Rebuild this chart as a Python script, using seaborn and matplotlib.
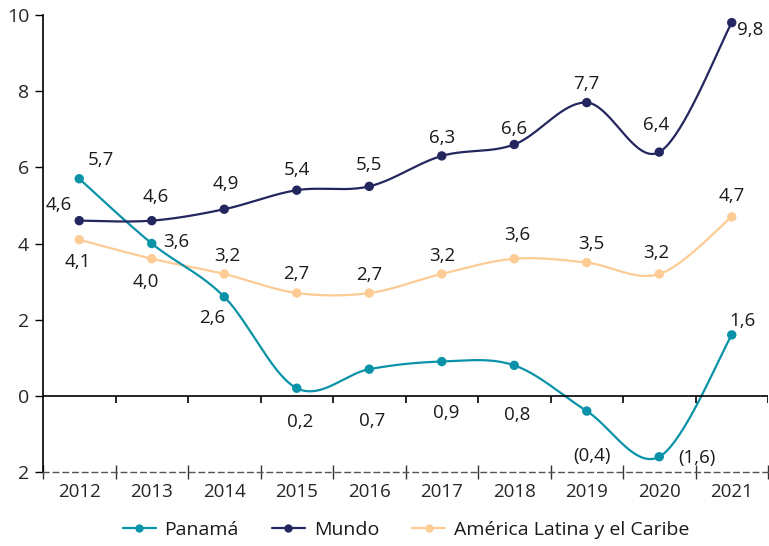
import numpy as np
import pandas as pd
import matplotlib
matplotlib.use("Agg")
import matplotlib.pyplot as plt
import seaborn as sns
from matplotlib.lines import Line2D

# ---------------- data ----------------
years = ["2012", "2013", "2014", "2015", "2016", "2017", "2018", "2019", "2020", "2021"]
panama = [5.7, 4.0, 2.6, 0.2, 0.7, 0.9, 0.8, -0.4, -1.6, 1.6]
mundo = [4.6, 4.6, 4.9, 5.4, 5.5, 6.3, 6.6, 7.7, 6.4, 9.8]
alc = [4.1, 3.6, 3.2, 2.7, 2.7, 3.2, 3.6, 3.5, 3.2, 4.7]
series_names = ["Panamá", "Mundo", "América Latina y el Caribe"]
y_ticks = [-2, 0, 2, 4, 6, 8, 10]
y_ticklabels = ["2", "0", "2", "4", "6", "8", "10"]

# label offsets in pixels (style only)
panama_off = [(22, 19), (-6, -38), (-12, -21), (3, -34), (3, -52), (4, -51), (3, -50), (5, -45), (38, -1), (11, 14)]
mundo_off = [(-20, 16), (4, 24), (2, 25), (0, 20), (0, 21), (0, 18), (0, 15), (0, 19), (-3, 27), (18, -7)]
alc_off = [(-1, -22), (25, 17), (3, 18), (0, 19), (0, 18), (0, 18), (3, 24), (5, 19), (-3, 21), (0, 21)]

colors = {"Panamá": "#0A93A8", "Mundo": "#24275F", "América Latina y el Caribe": "#FDCB94"}

sns.set_theme(style="white")
plt.rcParams["font.family"] = ["Open Sans", "DejaVu Sans"]
plt.rcParams["text.color"] = "#1a1a1a"


def smooth(vals, n=40):
    x = np.arange(len(vals), dtype=float)
    y = np.asarray(vals, dtype=float)
    P = np.column_stack([x, y])
    Pp = np.vstack([P[0], P, P[-1]])
    out = []
    for i in range(len(P) - 1):
        p0, p1, p2, p3 = Pp[i], Pp[i + 1], Pp[i + 2], Pp[i + 3]
        c1 = p1 + (p2 - p0) / 6.0
        c2 = p2 - (p3 - p1) / 6.0
        t = np.linspace(0, 1, n, endpoint=(i == len(P) - 2))[:, None]
        seg = (1 - t) ** 3 * p1 + 3 * (1 - t) ** 2 * t * c1 + 3 * (1 - t) * t ** 2 * c2 + t ** 3 * p2
        out.append(seg)
    return np.vstack(out)


def fmt(v):
    s = f"{abs(v):.1f}".replace(".", ",")
    return f"({s})" if v < 0 else s


fig = plt.figure(figsize=(7.69, 5.46), dpi=100)
ax = fig.add_axes([43 / 769, 1 - 472 / 546, (768 - 43) / 769, (472 - 15) / 546])

rows = []
pts = []
for name, vals in zip(series_names, [panama, mundo, alc]):
    sm = smooth(vals)
    for k, (xx, yy) in enumerate(sm):
        rows.append({"serie": name, "x": xx, "y": yy, "k": k})
    for i, v in enumerate(vals):
        pts.append({"serie": name, "x": i, "y": v})
curves = pd.DataFrame(rows)
points = pd.DataFrame(pts)

# draw order: ALC, Panamá, Mundo
for name in ["América Latina y el Caribe", "Panamá", "Mundo"]:
    d = curves[curves.serie == name]
    sns.lineplot(data=d, x="x", y="y", sort=False, estimator=None, color=colors[name],
                 linewidth=1.6, ax=ax, legend=False)
    p = points[points.serie == name]
    sns.scatterplot(data=p, x="x", y="y", color=colors[name], s=46, edgecolor="none",
                    ax=ax, legend=False, zorder=5)

for vals, offs in zip([panama, mundo, alc], [panama_off, mundo_off, alc_off]):
    for i, (v, (dx, dy)) in enumerate(zip(vals, offs)):
        ax.annotate(fmt(v), (i, v), xytext=(dx, dy), textcoords="offset pixels",
                    ha="center", va="center", fontsize=13.5, color="#1a1a1a")

ax.set_xlim(-0.5, 9.5)
ax.set_ylim(-2, 10)
ax.set_xlabel("")
ax.set_ylabel("")

# y axis
ax.set_yticks(y_ticks)
ax.set_yticklabels(y_ticklabels, fontsize=14)
ax.tick_params(axis="y", which="major", direction="out", length=6, width=1, color="black", pad=4, left=True)

# x axis: labels at category centers, ticks at boundaries
ax.set_xticks(np.arange(-0.5, 10, 1.0))
ax.set_xticklabels([])
ax.set_xticks(np.arange(len(years)), minor=True)
ax.set_xticklabels(years, minor=True, fontsize=13.5)
ax.tick_params(axis="x", which="major", direction="inout", length=10, width=1, color="#333333", bottom=True)
ax.tick_params(axis="x", which="minor", length=0, pad=8)

for s in ["top", "right"]:
    ax.spines[s].set_visible(False)
ax.spines["left"].set_color("black")
ax.spines["left"].set_linewidth(1.2)
ax.spines["bottom"].set_linestyle((0, (4, 3)))
ax.spines["bottom"].set_color("#555555")
ax.spines["bottom"].set_linewidth(1)

# zero line with ticks at boundaries
ax.axhline(0, color="black", linewidth=1.2, zorder=2)
ax.vlines(np.arange(0.5, 10, 1.0), -0.2, 0, color="black", linewidth=1.2, zorder=2)

handles = [Line2D([0], [0], color=colors[n], linewidth=1.6, marker="o", markersize=6,
                  markeredgewidth=0) for n in series_names]
fig.legend(handles, series_names, loc="center", bbox_to_anchor=(406 / 769, 1 - 530 / 546),
           ncol=3, frameon=False, fontsize=14, handlelength=1.7, columnspacing=1.7, handletextpad=0.45)

fig.savefig("out.png", dpi=100)
